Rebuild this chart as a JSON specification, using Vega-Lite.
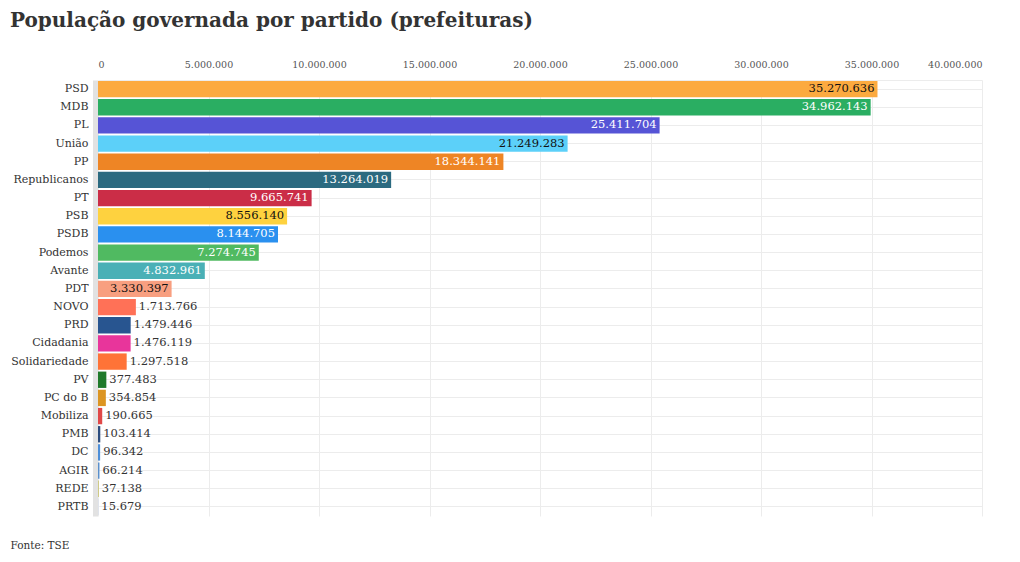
{
  "$schema": "https://vega.github.io/schema/vega-lite/v6.json",
  "autosize": {"type": "none"},
  "width": 884,
  "height": 436,
  "padding": {"left": 98, "top": 80, "right": 38, "bottom": 46},
  "background": "white",
  "config": {
    "locale": {"number": {"decimal": ",", "thousands": ".", "grouping": [3], "currency": ["R$", ""]}},
    "font": "DejaVu Serif",
    "view": {"stroke": null}
  },
  "title": {
    "text": "População governada por partido (prefeituras)",
    "anchor": "start",
    "frame": "group",
    "dx": -88,
    "offset": 28,
    "font": "DejaVu Serif",
    "fontSize": 20,
    "fontWeight": "bold",
    "color": "#333333"
  },
  "data": {
    "values": [
      {"partido": "PSD", "populacao": 35270636},
      {"partido": "MDB", "populacao": 34962143},
      {"partido": "PL", "populacao": 25411704},
      {"partido": "União", "populacao": 21249283},
      {"partido": "PP", "populacao": 18344141},
      {"partido": "Republicanos", "populacao": 13264019},
      {"partido": "PT", "populacao": 9665741},
      {"partido": "PSB", "populacao": 8556140},
      {"partido": "PSDB", "populacao": 8144705},
      {"partido": "Podemos", "populacao": 7274745},
      {"partido": "Avante", "populacao": 4832961},
      {"partido": "PDT", "populacao": 3330397},
      {"partido": "NOVO", "populacao": 1713766},
      {"partido": "PRD", "populacao": 1479446},
      {"partido": "Cidadania", "populacao": 1476119},
      {"partido": "Solidariedade", "populacao": 1297518},
      {"partido": "PV", "populacao": 377483},
      {"partido": "PC do B", "populacao": 354854},
      {"partido": "Mobiliza", "populacao": 190665},
      {"partido": "PMB", "populacao": 103414},
      {"partido": "DC", "populacao": 96342},
      {"partido": "AGIR", "populacao": 66214},
      {"partido": "REDE", "populacao": 37138},
      {"partido": "PRTB", "populacao": 15679}
    ]
  },
  "encoding": {
    "y": {
      "field": "partido",
      "type": "nominal",
      "sort": ["PSD", "MDB", "PL", "União", "PP", "Republicanos", "PT", "PSB", "PSDB", "Podemos", "Avante", "PDT", "NOVO", "PRD", "Cidadania", "Solidariedade", "PV", "PC do B", "Mobiliza", "PMB", "DC", "AGIR", "REDE", "PRTB"],
      "scale": {"paddingInner": 0.1, "paddingOuter": 0.05},
      "axis": {
        "title": null,
        "ticks": false,
        "domain": true,
        "domainColor": "#e2e2e2",
        "domainWidth": 5,
        "offset": 3,
        "labelPadding": 7,
        "labelFont": "DejaVu Serif",
        "labelFontSize": 11,
        "labelColor": "#333333",
        "grid": true,
        "gridColor": "#ececec",
        "bandPosition": 0.5
      }
    },
    "x": {
      "field": "populacao",
      "type": "quantitative",
      "scale": {"domain": [0, 40000000], "nice": false}
    }
  },
  "layer": [
    {
      "mark": {"type": "bar"},
      "encoding": {
        "x": {
          "field": "populacao",
          "type": "quantitative",
          "axis": {
            "orient": "top",
            "title": null,
            "format": ",d",
            "values": [0, 5000000, 10000000, 15000000, 20000000, 25000000, 30000000, 35000000, 40000000],
            "ticks": false,
            "domain": true,
            "domainColor": "#ececec",
            "labelFont": "DejaVu Serif",
            "labelFontSize": 9.5,
            "labelColor": "#555555",
            "labelPadding": 11,
            "grid": true,
            "gridColor": "#ececec"
          }
        },
        "color": {
          "field": "partido",
          "type": "nominal",
          "legend": null,
          "scale": {
            "domain": ["PSD", "MDB", "PL", "União", "PP", "Republicanos", "PT", "PSB", "PSDB", "Podemos", "Avante", "PDT", "NOVO", "PRD", "Cidadania", "Solidariedade", "PV", "PC do B", "Mobiliza", "PMB", "DC", "AGIR", "REDE", "PRTB"],
            "range": ["#FCAA3F", "#2AAE62", "#5654D6", "#5CD0F9", "#EE8525", "#2B6A80", "#CB2D47", "#FED23F", "#2A90EF", "#50BA61", "#4AB0B6", "#F89F80", "#FF7157", "#285590", "#E8359B", "#FF7337", "#207A2A", "#DC9522", "#E04848", "#2C4C7E", "#4D8ED8", "#5A8FCC", "#C9C26E", "#C8D4EA"]
          }
        }
      }
    },
    {
      "transform": [{"filter": "datum.populacao >= 3000000"}],
      "mark": {"type": "text", "align": "right", "baseline": "middle", "dx": -3, "fontSize": 11.5, "font": "DejaVu Serif"},
      "encoding": {
        "x": {"field": "populacao", "type": "quantitative", "axis": null},
        "text": {"field": "populacao", "type": "quantitative", "format": ",d"},
        "color": {
          "condition": {"test": "indexof(['PSD','União','PSB','PDT'], datum.partido) >= 0", "value": "#111111"},
          "value": "#ffffff"
        }
      }
    },
    {
      "transform": [{"filter": "datum.populacao < 3000000"}],
      "mark": {"type": "text", "align": "left", "baseline": "middle", "dx": 3, "fontSize": 11.5, "font": "DejaVu Serif", "color": "#333333"},
      "encoding": {
        "text": {"field": "populacao", "type": "quantitative", "format": ",d"},
        "x": {
          "field": "populacao",
          "type": "quantitative",
          "axis": {
            "orient": "bottom",
            "title": "Fonte: TSE",
            "labels": false,
            "ticks": false,
            "domain": false,
            "grid": false,
            "titleAnchor": "start",
            "titleAlign": "left",
            "titleX": -88,
            "titleY": 24,
            "titleFont": "DejaVu Serif",
            "titleFontSize": 10.5,
            "titleFontWeight": "normal",
            "titleColor": "#333333"
          }
        }
      }
    }
  ],
  "resolve": {"axis": {"x": "independent"}}
}
